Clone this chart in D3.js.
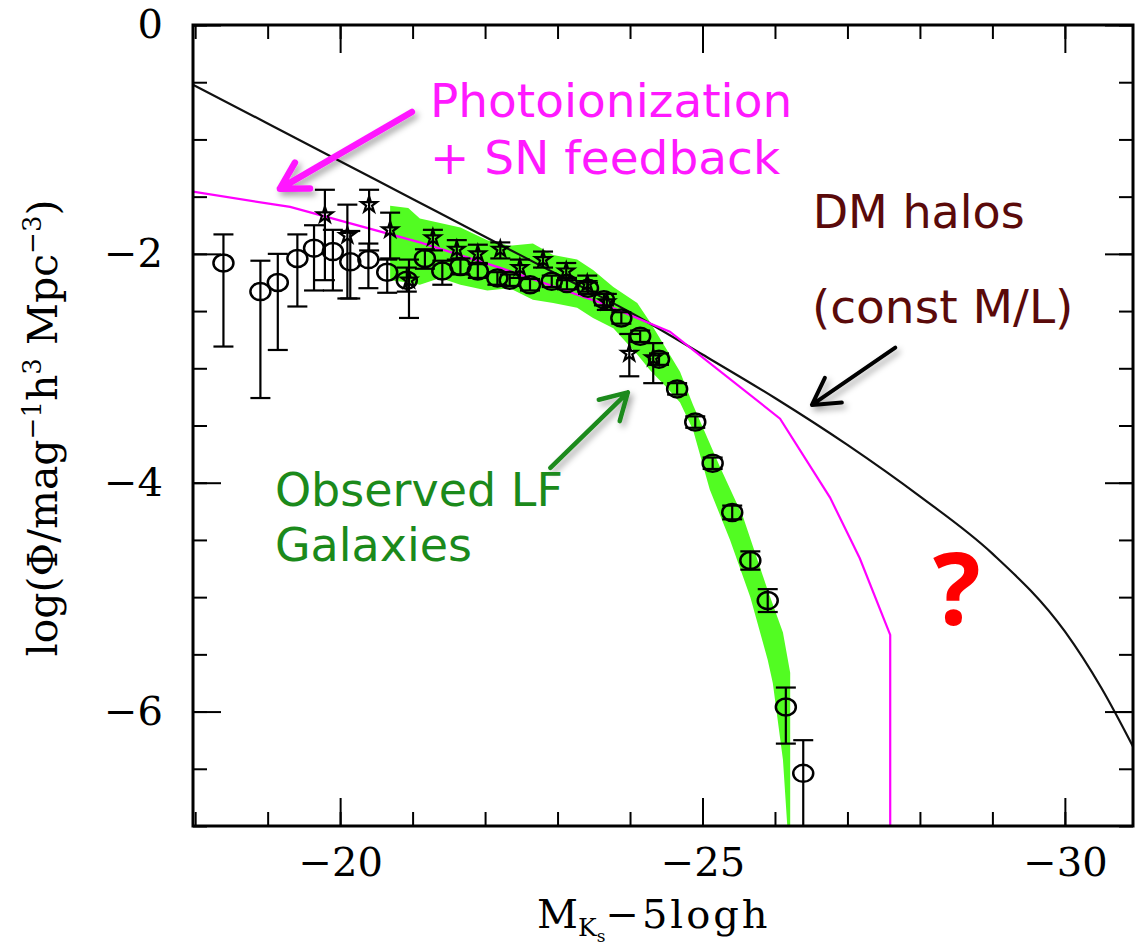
<!DOCTYPE html>
<html>
<head>
<meta charset="utf-8">
<script src="https://cdn.jsdelivr.net/npm/d3@7"></script>
<style>
  html, body { margin: 0; padding: 0; background: #fff; }
  svg { display: block; }
</style>
</head>
<body>
<script>
// K-band galaxy luminosity function compared with dark-matter halo and feedback models

// ---- axis ticks ----
const xMajorTicks = [-20, -25, -30];
const xMinorTicks = [-18, -19, -20, -21, -22, -23, -24, -25, -26, -27, -28, -29, -30];
const yMajorTicks = [0, -2, -4, -6];
const yMinorTicks = [0, -0.5, -1, -1.5, -2, -2.5, -3, -3.5, -4, -4.5, -5, -5.5, -6, -6.5, -7];

// ---- DM halos (const M/L) ----
const haloMag = [-17.9, -19, -20, -21, -22, -23, -24, -25, -26, -27, -28, -29, -30, -30.5, -31];
const haloPhi = [-0.50, -0.86, -1.19, -1.52, -1.85, -2.18, -2.51, -2.88, -3.26, -3.67, -4.12, -4.62, -5.30, -5.79, -6.38];

// ---- Photoionization + SN feedback model ----
const fbMag = [-17.9, -19.31, -21.1, -22.2, -23.6, -24.55, -26.07, -26.76, -27.17, -27.59, -27.59];
const fbPhi = [-1.45, -1.59, -1.90, -2.12, -2.43, -2.68, -3.44, -4.13, -4.66, -5.33, -7.2];

// ---- observed LF envelope (upper and lower edges) ----
const bandUpperMag = [-20.69, -20.94, -21.10, -21.38, -21.66, -22.03, -22.34, -22.66, -22.94, -23.27, -23.49, -23.77, -24.10, -24.28, -24.51, -24.69, -24.87, -25.24, -25.56, -25.90, -26.11, -26.21, -26.21];
const bandUpperPhi = [-1.58, -1.60, -1.69, -1.73, -1.77, -1.88, -1.93, -1.91, -2.01, -2.05, -2.14, -2.29, -2.43, -2.60, -2.84, -3.03, -3.32, -3.86, -4.30, -4.94, -5.31, -5.66, -7.0];
const bandLowerMag = [-20.69, -20.94, -21.10, -21.38, -21.66, -22.03, -22.34, -22.66, -22.94, -23.27, -23.49, -23.77, -24.10, -24.28, -24.51, -24.69, -24.87, -25.10, -25.38, -25.66, -25.90, -25.97, -26.11, -26.17];
const bandLowerPhi = [-2.23, -2.25, -2.27, -2.21, -2.27, -2.32, -2.30, -2.40, -2.43, -2.47, -2.56, -2.65, -2.88, -3.02, -3.17, -3.30, -3.54, -4.06, -4.50, -5.00, -5.55, -5.75, -6.42, -7.0];

// ---- observed LF: survey A (open circles) ----
const circMag = [-18.39, -18.90, -19.14, -19.41, -19.64, -19.90, -20.14, -20.39, -20.65, -20.92, -21.17, -21.41, -21.66, -21.90, -22.17, -22.34, -22.62, -22.92, -23.13, -23.42, -23.64, -23.88, -24.14, -24.40, -24.65, -24.90, -25.14, -25.41, -25.66, -25.90, -26.15, -26.39];
const circPhi = [-2.08, -2.33, -2.25, -2.04, -1.95, -1.98, -2.07, -2.05, -2.16, -2.23, -2.04, -2.15, -2.11, -2.15, -2.21, -2.23, -2.27, -2.24, -2.26, -2.30, -2.40, -2.56, -2.72, -2.92, -3.18, -3.47, -3.83, -4.26, -4.68, -5.03, -5.96, -6.54];
const circHi = [-1.83, -2.06, -2.00, -1.83, -1.75, -1.79, -1.80, -1.91, -2.05, -2.12, -1.96, -2.06, -2.04, -2.09, -2.16, -2.18, -2.22, -2.19, -2.21, -2.25, -2.35, -2.51, -2.67, -2.87, -3.13, -3.42, -3.78, -4.20, -4.60, -4.93, -5.79, -6.25];
const circLo = [-2.81, -3.26, -2.84, -2.46, -2.32, -2.32, -2.39, -2.30, -2.34, -2.33, -2.13, -2.27, -2.18, -2.21, -2.27, -2.28, -2.32, -2.29, -2.31, -2.35, -2.45, -2.61, -2.77, -2.97, -3.23, -3.52, -3.88, -4.32, -4.76, -5.13, -6.28, -7.2];

// ---- observed LF: survey B (stars) ----
const starMag = [-19.79, -20.10, -20.40, -20.69, -20.95, -21.28, -21.61, -21.90, -22.21, -22.48, -22.80, -23.12, -23.41, -23.68, -23.99, -24.32];
const starPhi = [-1.66, -1.84, -1.57, -1.79, -2.23, -1.86, -1.96, -2.00, -1.96, -2.12, -2.05, -2.15, -2.26, -2.42, -2.87, -2.91];
const starHi = [-1.44, -1.57, -1.44, -1.64, -2.05, -1.79, -1.88, -1.92, -1.90, -2.05, -1.98, -2.08, -2.19, -2.35, -2.70, -2.78];
const starLo = [-2.23, -2.39, -1.97, -2.04, -2.56, -1.97, -2.05, -2.08, -2.04, -2.21, -2.12, -2.23, -2.33, -2.49, -3.07, -3.13];

// ---- annotations (data coordinates) ----
const notes = [
  { lines: ["Photoionization", "+ SN feedback"], mag: -21.24, phi: -0.80, dPhi: 0.50, color: "#ff19ff", size: 47 },
  { lines: ["DM halos"], mag: -26.52, phi: -1.77, dPhi: 0, color: "#5a0a0a", size: 46 },
  { lines: ["(const M/L)"], mag: -26.51, phi: -2.60, dPhi: 0, color: "#5a0a0a", size: 47 },
  { lines: ["Observed LF", "Galaxies"], mag: -19.10, phi: -4.20, dPhi: 0.48, color: "#1b8a1b", size: 46 }
];
const arrows = [
  { from: [-20.99, -0.76], to: [-19.17, -1.43], color: "#ff19ff", width: 6.5 },
  { from: [-27.66, -2.82], to: [-26.51, -3.32], color: "#000000", width: 4 },
  { from: [-22.90, -3.87], to: [-23.97, -3.21], color: "#1b8a1b", width: 4.5 }
];

const W = 1135, H = 949;
const x = d3.scaleLinear().domain([-17.97, -30.94]).range([193, 1133]);
const y = d3.scaleLinear().domain([0, -7]).range([25, 826]);
const [x0, x1] = x.range();
const [y0, y1] = y.range();

const svg = d3.select("body").append("svg").attr("width", W).attr("height", H);
const defs = svg.append("defs");
defs.append("clipPath").attr("id", "plot-clip")
  .append("rect").attr("x", x0).attr("y", y0).attr("width", x1 - x0).attr("height", y1 - y0);
const shadow = defs.append("filter").attr("id", "soft-shadow")
  .attr("x", "-30%").attr("y", "-30%").attr("width", "160%").attr("height", "160%");
shadow.append("feDropShadow").attr("dx", 3).attr("dy", 4).attr("stdDeviation", 3)
  .attr("flood-color", "#000").attr("flood-opacity", 0.35);

const plot = svg.append("g").attr("clip-path", "url(#plot-clip)");

// observed LF envelope
const bandPts = bandUpperMag.map((m, i) => [m, bandUpperPhi[i]])
  .concat(bandLowerMag.map((m, i) => [m, bandLowerPhi[i]]).reverse());
plot.append("path")
  .attr("d", d3.line().x(d => x(d[0])).y(d => y(d[1]))(bandPts) + "Z")
  .attr("fill", "#52fc22").attr("stroke", "none");

// model curves
plot.append("path")
  .attr("d", d3.line().x(d => x(d[0])).y(d => y(d[1])).curve(d3.curveMonotoneX)(haloMag.map((m, i) => [m, haloPhi[i]])))
  .attr("fill", "none").attr("stroke", "#111").attr("stroke-width", 2.2);
plot.append("path")
  .attr("d", d3.line().x(d => x(d[0])).y(d => y(d[1]))(fbMag.map((m, i) => [m, fbPhi[i]])))
  .attr("fill", "none").attr("stroke", "#ff00ff").attr("stroke-width", 2.2);

// error bars
function errorBars(mags, his, los) {
  const g = plot.append("g").attr("stroke", "#000").attr("stroke-width", 2.2).attr("fill", "none");
  mags.forEach((m, i) => {
    const cx = x(m), ya = y(his[i]), yb = y(los[i]);
    g.append("line").attr("x1", cx).attr("x2", cx).attr("y1", ya).attr("y2", yb);
    g.append("line").attr("x1", cx - 10).attr("x2", cx + 10).attr("y1", ya).attr("y2", ya);
    g.append("line").attr("x1", cx - 10).attr("x2", cx + 10).attr("y1", yb).attr("y2", yb);
  });
}
errorBars(circMag, circHi, circLo);
errorBars(starMag, starHi, starLo);

plot.append("g").selectAll("ellipse")
  .data(circMag.map((m, i) => [m, circPhi[i]]))
  .join("ellipse")
  .attr("cx", d => x(d[0])).attr("cy", d => y(d[1]))
  .attr("rx", 10).attr("ry", 8.5)
  .attr("fill", "none").attr("stroke", "#000").attr("stroke-width", 2.5);

const star = d3.symbol().type(d3.symbolStar).size(75);
plot.append("g").selectAll("path")
  .data(starMag.map((m, i) => [m, starPhi[i]]))
  .join("path")
  .attr("transform", d => `translate(${x(d[0])},${y(d[1])})`)
  .attr("d", star)
  .attr("fill", "none").attr("stroke", "#000").attr("stroke-width", 2.2);

// axes: ticks point inward on all four sides
const axisFont = "'DejaVu Serif', serif";
function drawAxis(axis, tx, ty) {
  const g = svg.append("g").attr("transform", `translate(${tx},${ty})`).call(axis);
  g.select(".domain").remove();
  g.selectAll(".tick line").attr("stroke", "#000").attr("stroke-width", 2);
  g.selectAll("text").attr("font-family", axisFont).attr("font-size", 40).attr("fill", "#000");
  return g;
}
const fmt = d3.format("d");
drawAxis(d3.axisBottom(x).tickValues(xMinorTicks).tickSize(-14).tickFormat(""), 0, y1);
drawAxis(d3.axisBottom(x).tickValues(xMajorTicks).tickSize(-28).tickPadding(22).tickFormat(fmt), 0, y1);
drawAxis(d3.axisTop(x).tickValues(xMinorTicks).tickSize(-14).tickFormat(""), 0, y0);
drawAxis(d3.axisTop(x).tickValues(xMajorTicks).tickSize(-28).tickFormat(""), 0, y0);
drawAxis(d3.axisLeft(y).tickValues(yMinorTicks).tickSize(-14).tickFormat(""), x0, 0);
drawAxis(d3.axisLeft(y).tickValues(yMajorTicks).tickSize(-28).tickPadding(30).tickFormat(fmt), x0, 0);
drawAxis(d3.axisRight(y).tickValues(yMinorTicks).tickSize(-14).tickFormat(""), x1, 0);
drawAxis(d3.axisRight(y).tickValues(yMajorTicks).tickSize(-28).tickFormat(""), x1, 0);

svg.append("rect").attr("x", x0).attr("y", y0).attr("width", x1 - x0).attr("height", y1 - y0)
  .attr("fill", "none").attr("stroke", "#000").attr("stroke-width", 3);

// axis titles
const xt = svg.append("text").attr("x", 537).attr("y", 928)
  .attr("font-family", axisFont).attr("font-size", 40).attr("fill", "#000");
xt.append("tspan").text("M");
xt.append("tspan").attr("font-size", 25).attr("dy", 8).text("K");
xt.append("tspan").attr("font-size", 17).attr("dy", 6).text("s");
xt.append("tspan").attr("font-size", 40).attr("dy", -14).attr("letter-spacing", 3).text("−5logh");

const yt = svg.append("text")
  .attr("transform", "translate(57,428) rotate(-90)")
  .attr("text-anchor", "middle")
  .attr("font-family", axisFont).attr("font-size", 41).attr("fill", "#000");
yt.append("tspan").text("log(Φ/mag");
yt.append("tspan").attr("font-size", 26).attr("dy", -16).text("−1");
yt.append("tspan").attr("dy", 16).text("h");
yt.append("tspan").attr("font-size", 26).attr("dy", -16).text("3");
yt.append("tspan").attr("dy", 16).text(" Mpc");
yt.append("tspan").attr("font-size", 26).attr("dy", -16).text("−3");
yt.append("tspan").attr("dy", 16).text(")");

// annotation arrows
arrows.forEach(a => {
  const [sx, sy] = [x(a.from[0]), y(a.from[1])];
  const [tx, ty] = [x(a.to[0]), y(a.to[1])];
  const ang = Math.atan2(sy - ty, sx - tx);
  const len = 30, spread = 30 * Math.PI / 180;
  const b1 = [tx + len * Math.cos(ang + spread), ty + len * Math.sin(ang + spread)];
  const b2 = [tx + len * Math.cos(ang - spread), ty + len * Math.sin(ang - spread)];
  svg.append("path")
    .attr("d", `M${sx},${sy}L${tx},${ty}M${b1[0]},${b1[1]}L${tx},${ty}L${b2[0]},${b2[1]}`)
    .attr("fill", "none").attr("stroke", a.color).attr("stroke-width", a.width)
    .attr("stroke-linecap", "round").attr("stroke-linejoin", "round")
    .attr("filter", "url(#soft-shadow)");
});

// annotation labels
const noteFont = "'DejaVu Sans', sans-serif";
notes.forEach(n => {
  n.lines.forEach((t, i) => {
    svg.append("text")
      .attr("x", x(n.mag)).attr("y", y(n.phi - i * n.dPhi))
      .attr("font-family", noteFont).attr("font-size", n.size).attr("fill", n.color)
      .text(t);
  });
});
svg.append("text")
  .attr("x", x(-28.18)).attr("y", y(-5.24))
  .attr("font-family", "'Open Sans', sans-serif").attr("font-weight", 700)
  .attr("font-size", 100).attr("fill", "#ff0000")
  .text("?");
</script>
</body>
</html>
